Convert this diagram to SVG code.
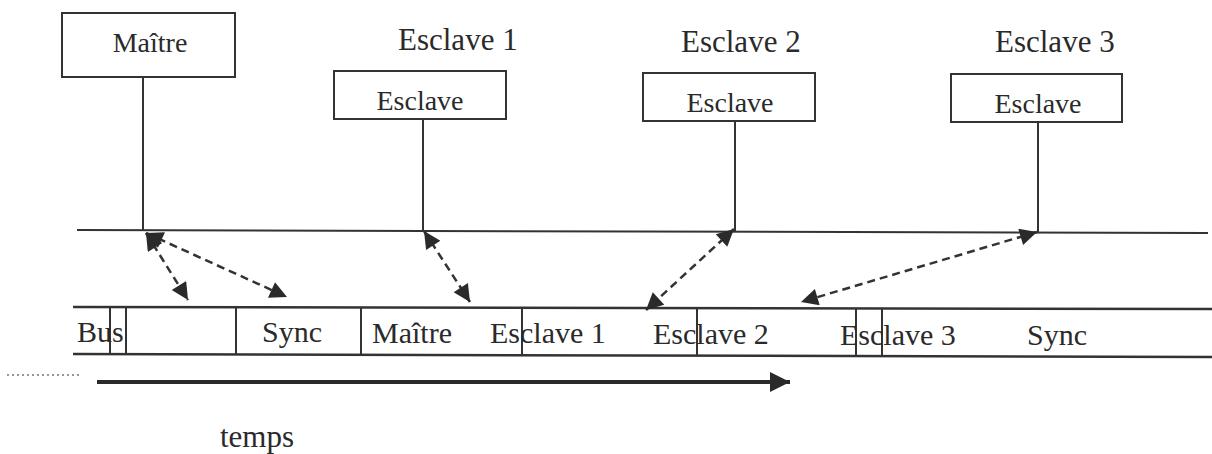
<svg xmlns="http://www.w3.org/2000/svg" width="1212" height="454" viewBox="0 0 1212 454">
<style>
.box{fill:#fff;stroke:#333;stroke-width:2}
.ln{stroke:#333;stroke-width:2;fill:none}
.strip{stroke:#333;stroke-width:2.5;fill:none}
.dash{stroke:#333;stroke-width:2.5;fill:none;stroke-dasharray:8 5;marker-start:url(#ah);marker-end:url(#ah)}
text{font-family:"Liberation Serif","Times New Roman",serif;fill:#2a2a2a}
.t31{font-size:31px}
.t30{font-size:30px}
.t28{font-size:28px}
</style>
<defs>
<marker id="ah" viewBox="0 0 10 10" refX="10" refY="5" markerUnits="userSpaceOnUse" markerWidth="21" markerHeight="17" orient="auto-start-reverse">
<path d="M0,0 L10,5 L0,10 z" fill="#2a2a2a"/>
</marker>
<marker id="th" viewBox="0 0 10 10" refX="10" refY="5" markerUnits="userSpaceOnUse" markerWidth="26" markerHeight="20" orient="auto">
<path d="M0,0 L10,5 L0,10 z" fill="#2a2a2a"/>
</marker>
</defs>

<g id="bus-line"><line class="ln" x1="77" y1="230" x2="1208" y2="233"/></g>

<g id="maitre">
<rect class="box" x="62" y="13" width="173" height="64"/>
<text class="t28" x="150" y="52" text-anchor="middle">Maître</text>
<line class="ln" x1="143" y1="77" x2="143" y2="230"/>
</g>

<g id="esclave1">
<text class="t31" x="398" y="50">Esclave 1</text>
<rect class="box" x="334" y="71" width="172" height="48"/>
<text class="t28" x="420" y="110" text-anchor="middle">Esclave</text>
<line class="ln" x1="423" y1="119" x2="423" y2="231"/>
</g>

<g id="esclave2">
<text class="t31" x="681" y="52">Esclave 2</text>
<rect class="box" x="643" y="73" width="172" height="48"/>
<text class="t28" x="730" y="112" text-anchor="middle">Esclave</text>
<line class="ln" x1="735" y1="121" x2="735" y2="232"/>
</g>

<g id="esclave3">
<text class="t31" x="995" y="52">Esclave 3</text>
<rect class="box" x="951" y="74" width="171" height="48"/>
<text class="t28" x="1038" y="113" text-anchor="middle">Esclave</text>
<line class="ln" x1="1038" y1="122" x2="1038" y2="233"/>
</g>

<g id="timeline">
<line class="strip" x1="73" y1="307" x2="1212" y2="309"/>
<line class="strip" x1="73" y1="354" x2="1212" y2="357"/>
<line class="ln" x1="110" y1="307" x2="110" y2="355"/>
<line class="ln" x1="126" y1="307" x2="126" y2="355"/>
<line class="ln" x1="236" y1="307" x2="236" y2="355"/>
<line class="ln" x1="361" y1="307" x2="361" y2="355"/>
<line class="ln" x1="522" y1="308" x2="522" y2="356"/>
<line class="ln" x1="697" y1="308" x2="697" y2="356"/>
<line class="ln" x1="856" y1="308" x2="856" y2="357"/>
<line class="ln" x1="882" y1="308" x2="882" y2="357"/>
<text class="t30" x="77" y="342">Bus</text>
<text class="t30" x="262" y="342">Sync</text>
<text class="t30" x="372" y="343">Maître</text>
<text class="t30" x="490" y="343">Esclave 1</text>
<text class="t30" x="653" y="344">Esclave 2</text>
<text class="t30" x="840" y="345">Esclave 3</text>
<text class="t30" x="1027" y="345">Sync</text>
</g>

<g id="time-axis">
<line x1="7" y1="375" x2="80" y2="375" stroke="#777" stroke-width="1.5" stroke-dasharray="2 3"/>
<line x1="97" y1="382" x2="790" y2="382" stroke="#2a2a2a" stroke-width="4" marker-end="url(#th)"/>
<text class="t31" x="220" y="447">temps</text>
</g>

<g id="connectors">
<line class="dash" x1="146" y1="233" x2="188" y2="300"/>
<line class="dash" x1="146" y1="233" x2="287" y2="297"/>
<line class="dash" x1="424" y1="231" x2="470" y2="302"/>
<line class="dash" x1="734" y1="229" x2="646" y2="310"/>
<line class="dash" x1="1037" y1="232" x2="801" y2="302"/>
</g>
</svg>
